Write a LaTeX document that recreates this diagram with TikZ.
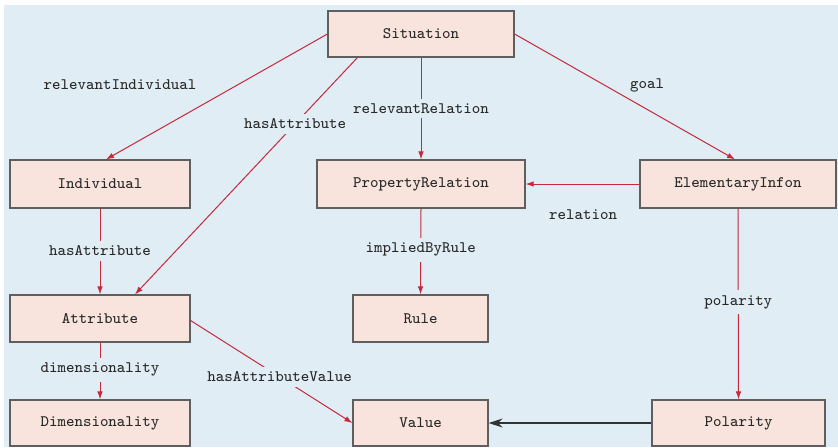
\documentclass[tikz,border=0pt]{standalone}
\usetikzlibrary{arrows.meta,calc}
\definecolor{bgblue}{RGB}{224,237,244}
\definecolor{boxfill}{RGB}{248,228,220}
\definecolor{boxline}{RGB}{95,95,95}
\definecolor{relred}{RGB}{196,42,60}
\definecolor{txt}{RGB}{40,40,40}
\tikzset{
  box/.style={draw=boxline, line width=0.6pt, fill=boxfill, rectangle, inner sep=0pt,
              font=\fontsize{8}{10}\selectfont\ttfamily, text=txt},
  rel/.style={draw=relred, line width=0.5pt, -{Latex[length=4pt,width=2.8pt]}},
  plain/.style={draw=black!80, line width=0.6pt, -{Stealth[length=7pt,width=4.5pt]}},
  lbl/.style={fill=bgblue, inner sep=2.5pt, font=\fontsize{8}{10}\selectfont\ttfamily, text=txt},
  freelbl/.style={inner sep=0pt, font=\fontsize{8}{10}\selectfont\ttfamily, text=txt}
}
\begin{document}
\begin{tikzpicture}[x=0.5pt,y=-0.5pt]
  \useasboundingbox (0,0) rectangle (838,447);
  \begin{scope}
  \clip (0,0) rectangle (838,447);
  \fill[bgblue] (4,5) rectangle (838,447);

  % classes
  \node[box, minimum width=93pt, minimum height=23pt] (sit) at (421,34) {Situation};
  \node[box, minimum width=90pt, minimum height=24pt] (ind) at (100,184) {Individual};
  \node[box, minimum width=104pt, minimum height=24pt] (pr) at (421,184) {PropertyRelation};
  \node[box, minimum width=98pt, minimum height=24pt] (ei) at (738,184) {ElementaryInfon};
  \node[box, minimum width=90pt, minimum height=23.5pt] (att) at (100,318.5) {Attribute};
  \node[box, minimum width=67.5pt, minimum height=23.5pt] (rule) at (420.5,318.5) {Rule};
  \node[box, minimum width=90pt, minimum height=23pt] (dim) at (100,423) {Dimensionality};
  \node[box, minimum width=67.5pt, minimum height=23pt] (val) at (420.5,423) {Value};
  \node[box, minimum width=86.5pt, minimum height=23pt] (pol) at (738.5,423) {Polarity};

  % properties
  \draw[rel] (sit.west) -- ($(ind.north)+(6,0)$);
  \node[freelbl] (lrelind) at (120,85) {relevantIndividual};

  \draw[rel] ($(sit.south west)+(30,0)$) -- node[lbl, pos=0.28] {hasAttribute} ($(att.north)+(35,0)$);

  \draw[rel] (sit.south) -- node[lbl, pos=0.5] {relevantRelation} (pr.north);

  \draw[rel] (sit.east) -- ($(ei.north)+(-3,0)$);
  \node[freelbl] (lgoal) at (647,85) {goal};

  \draw[rel] (ei.west) -- (pr.east);
  \node[freelbl] (lrel) at (583,215) {relation};

  \draw[rel] (ind.south) -- node[lbl, pos=0.49] {hasAttribute} (att.north);
  \draw[rel] (pr.south) -- node[lbl, pos=0.48] {impliedByRule} (rule.north);
  \draw[rel] (ei.south) -- node[lbl, pos=0.49] {polarity} (pol.north);
  \draw[rel] (att.south) -- node[lbl, pos=0.48] {dimensionality} (dim.north);
  \draw[rel] ($(att.east)+(0,2)$) -- node[lbl, pos=0.55] {hasAttributeValue} (val.west);

  \draw[plain] (pol.west) -- (val.east);
  \end{scope}
\end{tikzpicture}
\end{document}
